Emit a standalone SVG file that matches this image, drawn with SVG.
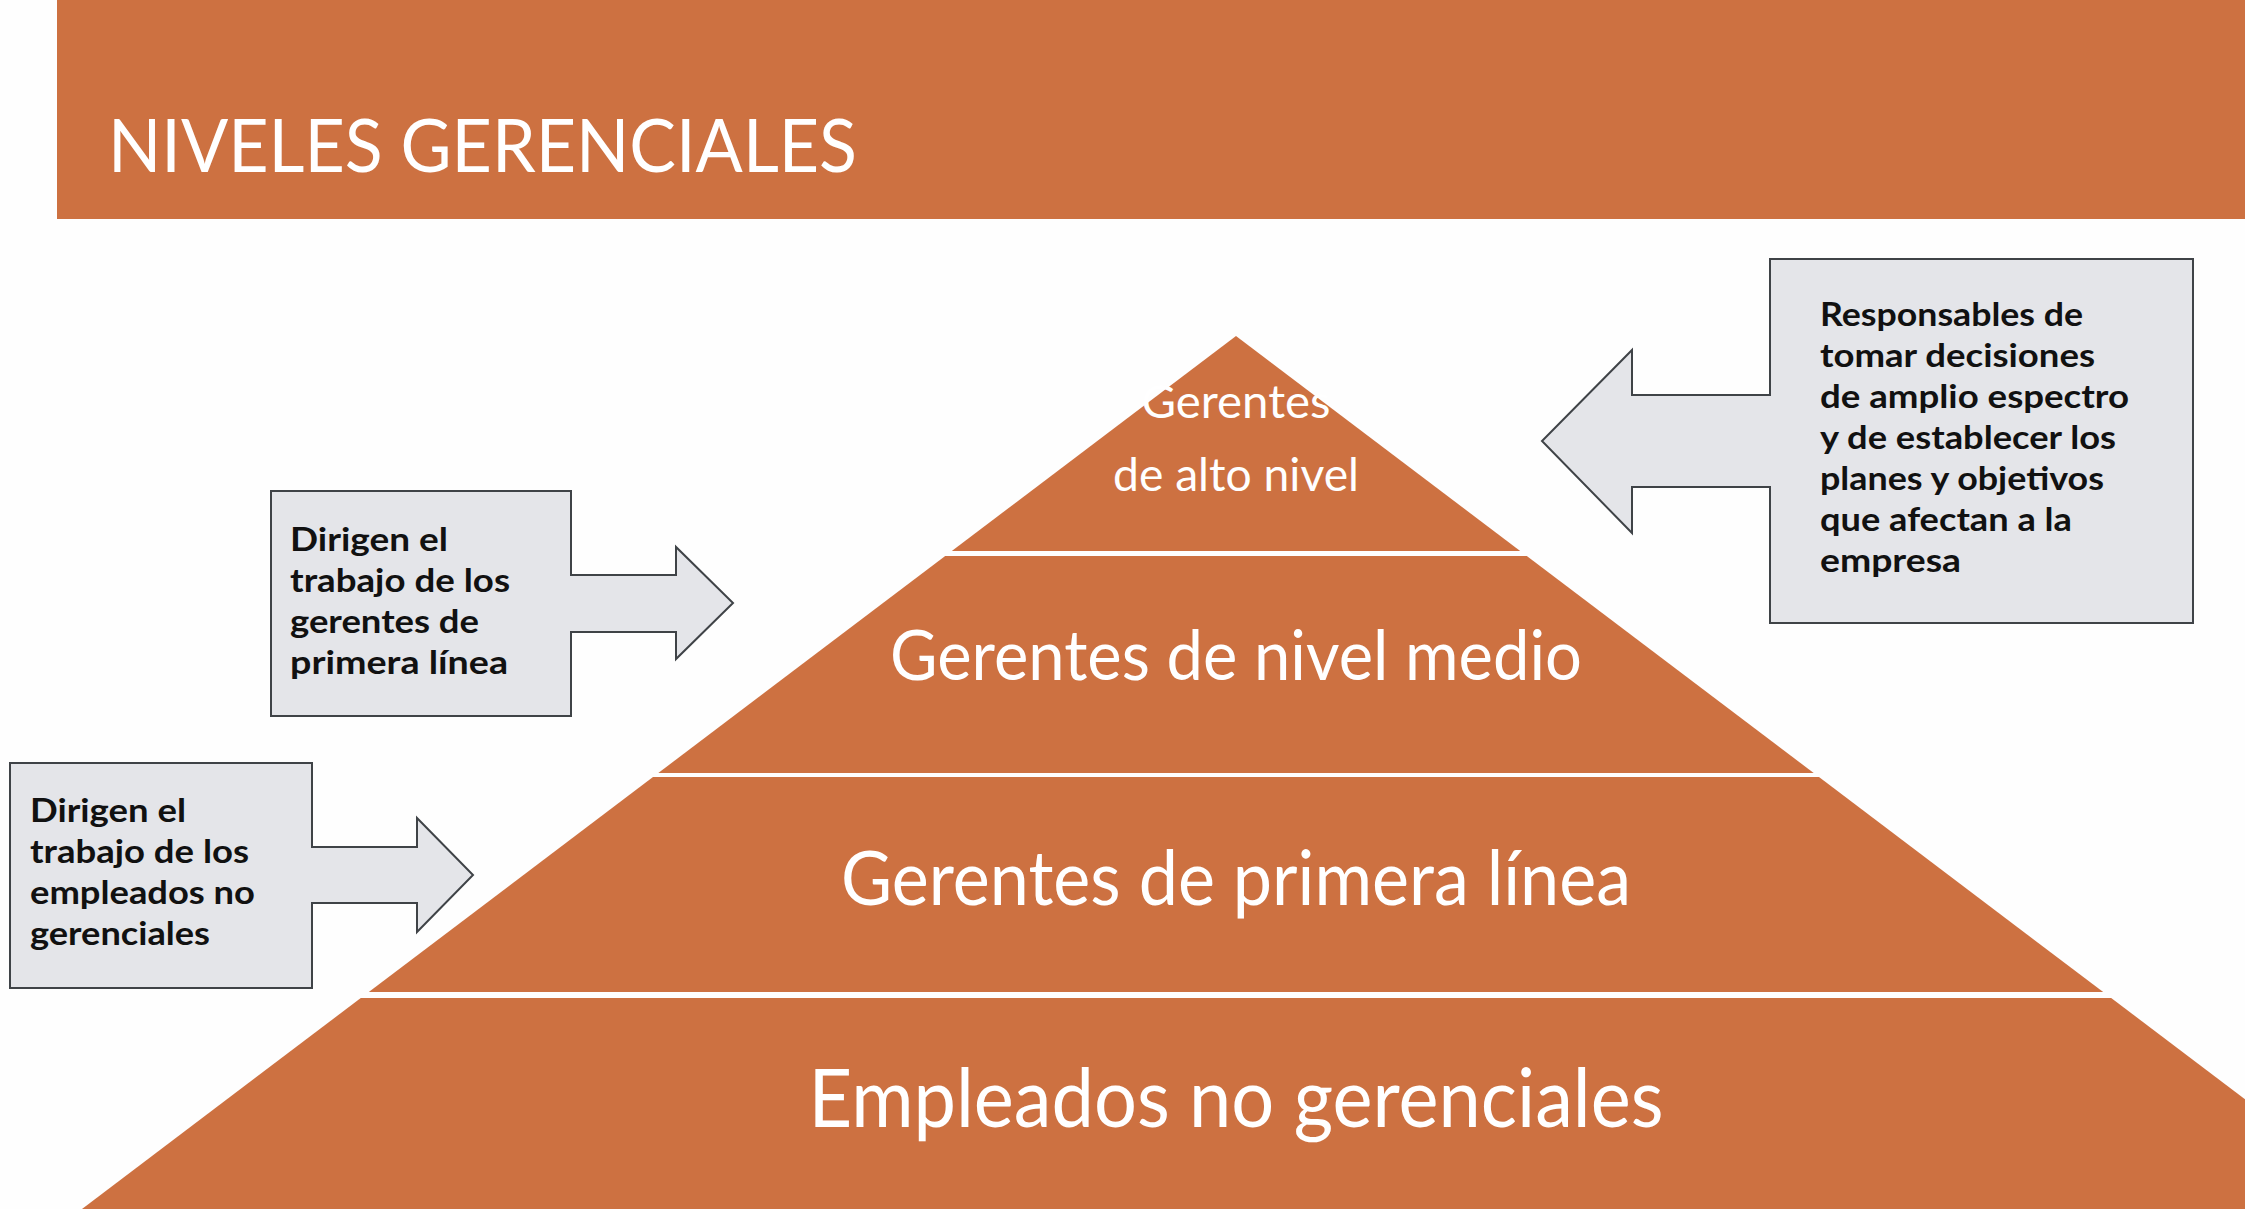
<svg xmlns="http://www.w3.org/2000/svg" width="2245" height="1209" viewBox="0 0 2245 1209">
<style>
.bg{fill:#FEFEFE}
.org{fill:#CD7141}
.title{font-family:Lato,"Liberation Sans",sans-serif;font-size:74px;fill:#FFFFFF}
.lvl{font-family:Lato,"Liberation Sans",sans-serif;fill:#FFFFFF;text-anchor:middle}
.call{fill:#E4E5E9;stroke:#3F4347;stroke-width:2}
.ct{font-family:Lato,"Liberation Sans",sans-serif;font-weight:bold;font-size:32px;fill:#111111}
</style>
<rect class="bg" x="0" y="0" width="2245" height="1209"/>
<g id="header">
<rect class="org" x="57" y="0" width="2188" height="219"/>
<text class="title" x="108" y="172" textLength="749" lengthAdjust="spacingAndGlyphs">NIVELES GERENCIALES</text>
</g>
<g id="nivel-alto">
<polygon class="org" points="1236,336 1520.2,551 951.8,551"/>
<text class="lvl" x="1236" y="418" font-size="46" textLength="189" lengthAdjust="spacingAndGlyphs">Gerentes</text>
<text class="lvl" x="1236" y="491" font-size="46" textLength="246" lengthAdjust="spacingAndGlyphs">de alto nivel</text>
</g>
<g id="nivel-medio">
<polygon class="org" points="945.2,556 1526.8,556 1813.7,773 658.3,773"/>
<text class="lvl" x="1236" y="680" font-size="70" textLength="692" lengthAdjust="spacingAndGlyphs">Gerentes de nivel medio</text>
</g>
<g id="primera-linea">
<polygon class="org" points="653,777 1819,777 2103.2,992 368.8,992"/>
<text class="lvl" x="1236" y="905" font-size="76" textLength="790" lengthAdjust="spacingAndGlyphs">Gerentes de primera línea</text>
</g>
<g id="empleados">
<polygon class="org" points="360.8,998 2111.2,998 2390,1209 82,1209"/>
<text class="lvl" x="1236" y="1127" font-size="82" textLength="855" lengthAdjust="spacingAndGlyphs">Empleados no gerenciales</text>
</g>
<g id="connectors">
<g id="callout-alto">
<polygon class="call" points="1770,259 2193,259 2193,623 1770,623 1770,487 1632,487 1632,533 1542,441 1632,350 1632,395 1770,395"/>
<text class="ct" x="1820" y="326" textLength="263" lengthAdjust="spacingAndGlyphs">Responsables de</text>
<text class="ct" x="1820" y="367" textLength="275" lengthAdjust="spacingAndGlyphs">tomar decisiones</text>
<text class="ct" x="1820" y="408" textLength="309" lengthAdjust="spacingAndGlyphs">de amplio espectro</text>
<text class="ct" x="1820" y="449" textLength="296" lengthAdjust="spacingAndGlyphs">y de establecer los</text>
<text class="ct" x="1820" y="490" textLength="284" lengthAdjust="spacingAndGlyphs">planes y objetivos</text>
<text class="ct" x="1820" y="531" textLength="252" lengthAdjust="spacingAndGlyphs">que afectan a la</text>
<text class="ct" x="1820" y="572" textLength="141" lengthAdjust="spacingAndGlyphs">empresa</text>
</g>
<g id="callout-medio">
<polygon class="call" points="271,491 571,491 571,575 676,575 676,547 733,603 676,659 676,632 571,632 571,716 271,716"/>
<text class="ct" x="290" y="551" textLength="158" lengthAdjust="spacingAndGlyphs">Dirigen el</text>
<text class="ct" x="290" y="592" textLength="220" lengthAdjust="spacingAndGlyphs">trabajo de los</text>
<text class="ct" x="290" y="633" textLength="189" lengthAdjust="spacingAndGlyphs">gerentes de</text>
<text class="ct" x="290" y="674" textLength="218" lengthAdjust="spacingAndGlyphs">primera línea</text>
</g>
<g id="callout-primera">
<polygon class="call" points="10,763 312,763 312,847 417,847 417,818 473,875 417,932 417,903 312,903 312,988 10,988"/>
<text class="ct" x="30" y="822" textLength="156" lengthAdjust="spacingAndGlyphs">Dirigen el</text>
<text class="ct" x="30" y="863" textLength="219" lengthAdjust="spacingAndGlyphs">trabajo de los</text>
<text class="ct" x="30" y="904" textLength="225" lengthAdjust="spacingAndGlyphs">empleados no</text>
<text class="ct" x="30" y="945" textLength="180" lengthAdjust="spacingAndGlyphs">gerenciales</text>
</g>
</g>
</svg>
